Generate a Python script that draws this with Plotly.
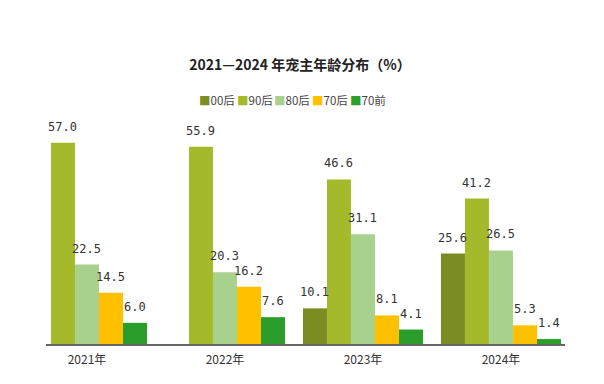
import plotly.graph_objects as go

years = ["2021年", "2022年", "2023年", "2024年"]
series_names = ["00后", "90后", "80后", "70后", "70前"]
v00 = [None, None, 10.1, 25.6]
v90 = [57.0, 55.9, 46.6, 41.2]
v80 = [22.5, 20.3, 31.1, 26.5]
v70h = [14.5, 16.2, 8.1, 5.3]
v70q = [6.0, 7.6, 4.1, 1.4]
colors = ["#7b8c22", "#a5ba2b", "#a9d18e", "#ffc000", "#2a9d2a"]
title_text = "2021—2024 年宠主年龄分布（%）"

all_vals = [v00, v90, v80, v70h, v70q]

W, H = 596, 376
ML, MR, MT, MB = 38, 39, 103, 40
BARGAP = 0.13
plot_w = W - ML - MR
xr = [-0.297, 3.464]
cat_px = plot_w / (xr[1] - xr[0])
bar_px = cat_px * (1 - BARGAP) / len(series_names)

fig = go.Figure()
for i, (name, vals, col) in enumerate(zip(series_names, all_vals, colors)):
    fig.add_trace(go.Bar(
        x=years, y=vals, name=name, marker_color=col, marker_line_width=0,
        showlegend=False,
    ))
    for yr, v in zip(years, vals):
        if v is None:
            continue
        fig.add_annotation(
            x=yr, y=v, xref="x", yref="y", text=f"{v:.1f}", showarrow=False,
            xanchor="center", yanchor="bottom",
            xshift=(i - (len(series_names) - 1) / 2) * bar_px, yshift=7,
            font=dict(family="DejaVu Sans Mono, Noto Sans CJK SC", size=12, color="#333333"),
        )

# legend drawn as compact text row
leg_x0 = 209 - ML
leg_dx = 37.7
for i, (name, col) in enumerate(zip(series_names, colors)):
    fig.add_annotation(
        xref="paper", yref="paper", x=(leg_x0 + i * leg_dx) / plot_w,
        y=(H - MB - 92) / (H - MT - MB),
        text=f"<span style='color:{col}'>■</span>{name}", showarrow=False,
        font=dict(family="Noto Sans CJK SC", size=11.5, color="#444444"),
        xanchor="center", yanchor="middle",
    )

fig.update_layout(
    width=W, height=H,
    margin=dict(l=ML, r=MR, t=MT, b=MB),
    paper_bgcolor="white", plot_bgcolor="white",
    barmode="group", bargap=BARGAP, bargroupgap=0,
    title=dict(text=f"<b>{title_text}</b>", x=292 / W, xanchor="center",
               y=1 - 57 / H, yanchor="middle",
               font=dict(family="Noto Sans CJK SC", size=14, color="#222222")),
    font=dict(family="Noto Sans CJK SC", color="#333333"),
    xaxis=dict(type="category", range=xr, showline=True, linecolor="#666666",
               linewidth=1.5, ticks="", showgrid=False, tickfont=dict(size=12, color="#333333"),
               ticklabelstandoff=4),
    yaxis=dict(range=[0, 66], visible=False, showgrid=False),
)

fig.write_html("out.html")
